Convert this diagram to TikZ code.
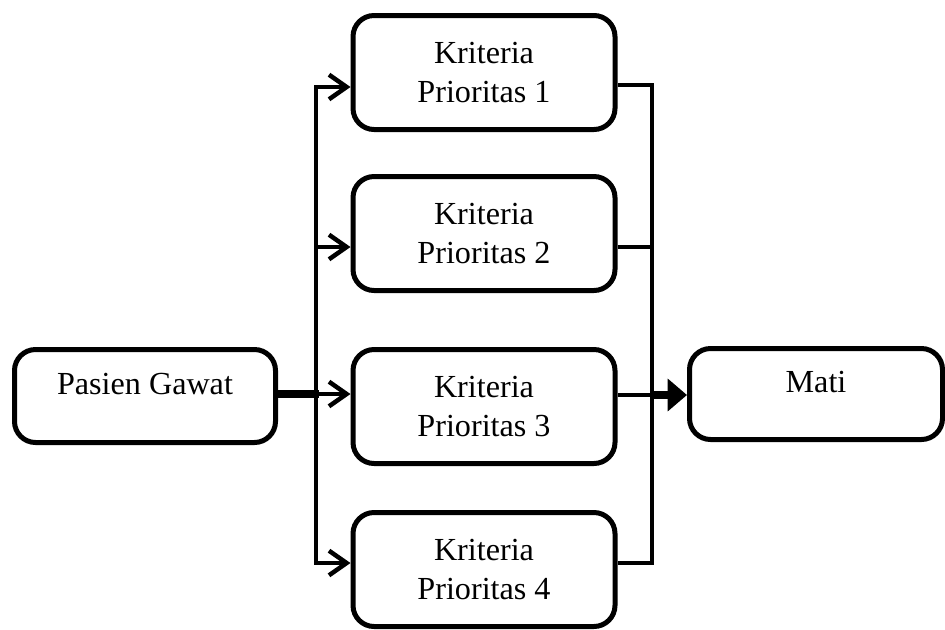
\documentclass[tikz,border=0pt]{standalone}
\usepackage{fontspec}
\setmainfont{Liberation Serif}
\usetikzlibrary{arrows.meta}
\begin{document}
\begin{tikzpicture}[x=0.02cm,y=-0.02cm,
  box/.style={draw, rectangle, rounded corners=12pt, line width=0.1cm, align=center,
    font=\fontsize{18.3}{21.8}\selectfont, inner sep=0pt},
  kbox/.style={box, minimum width=262*0.02cm, minimum height=114*0.02cm},
  conn/.style={line width=0.09cm},
  thickconn/.style={line width=0.17cm},
  openarrow/.style={-{Straight Barb[length=10pt,width=14pt,line width=0.09cm]}},
  fillarrow/.style={-{Triangle[length=11pt,width=18pt]}}]
\useasboundingbox (0,0) rectangle (945,629);

\node[box, minimum width=261*0.02cm, minimum height=93*0.02cm, text height=12pt, text depth=13.4pt] (pg) at (145,396) {Pasien Gawat};
\node[kbox] (k1) at (484,72.5) {Kriteria\\Prioritas 1};
\node[kbox] (k2) at (484,233.5) {Kriteria\\Prioritas 2};
\node[kbox] (k3) at (484,406.5) {Kriteria\\Prioritas 3};
\node[kbox] (k4) at (484,569.5) {Kriteria\\Prioritas 4};
\node[box, minimum width=253*0.02cm, minimum height=91*0.02cm, text height=12pt, text depth=13.4pt] (mati) at (816,394) {Mati};

% left junction
\coordinate (jl1) at (316,87);
\coordinate (jl2) at (316,247);
\coordinate (jl3) at (316,394);
\coordinate (jl4) at (316,563);
\coordinate (jl0) at (319,394);

\draw[thickconn] (pg.east |- jl3) -- (jl0);
\draw[conn, openarrow] (jl4) -- (jl1) -- (jl1 -| k1.west);
\draw[conn, openarrow] (jl1) -- (jl4) -- (jl4 -| k4.west);
\draw[conn, openarrow] (jl2) -- (jl2 -| k2.west);
\draw[conn, openarrow] (jl3) -- (jl3 -| k3.west);

% right junction
\coordinate (jr1) at (652,85);
\coordinate (jr2) at (652,247);
\coordinate (jr3) at (652,395);
\coordinate (jr4) at (652,563);

\draw[conn] (jr1 -| k1.east) -- (jr1) -- (jr4) -- (jr4 -| k4.east);
\draw[conn] (jr2 -| k2.east) -- (jr2);
\draw[conn] (jr3 -| k3.east) -- (jr3);
\draw[thickconn, fillarrow] (jr3) -- (jr3 -| mati.west);
\end{tikzpicture}
\end{document}
